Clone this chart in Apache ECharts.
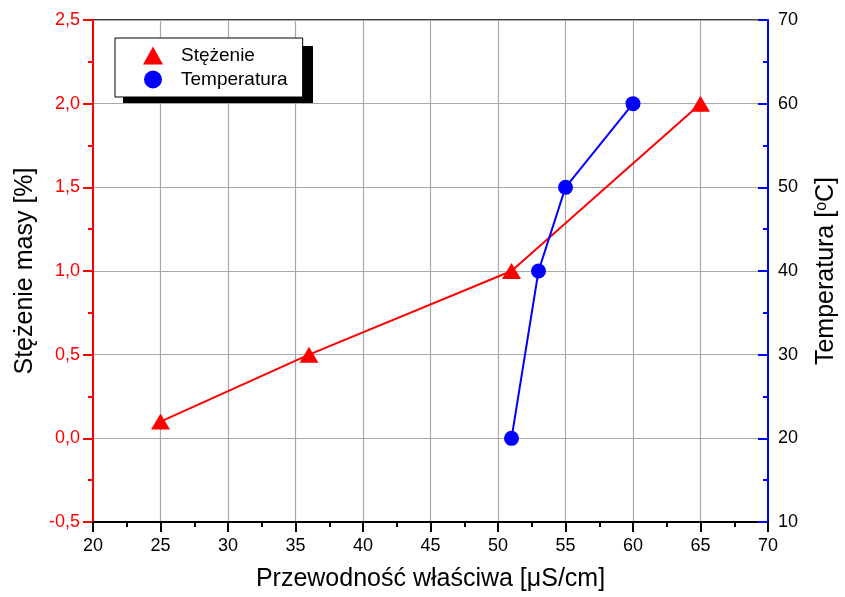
<!DOCTYPE html>
<html>
<head>
<meta charset="utf-8">
<script src="https://cdn.jsdelivr.net/npm/echarts@6/dist/echarts.min.js"></script>
<style>
html,body{margin:0;padding:0;background:#fff;}
#chart{width:845px;height:597px;}
</style>
</head>
<body>
<div id="chart"></div>
<script>
// dane
var concX = [25, 36, 51, 65];
var concY = [0.1, 0.5, 1.0, 2.0];
var tempX = [51, 53, 55, 60];
var tempY = [20, 40, 50, 60];
var seriesNames = ['Stężenie', 'Temperatura'];

function pairs(xs, ys) {
	var out = [];
	for (var i = 0; i < xs.length; i++) {
		out.push([xs[i], ys[i]]);
	}
	return out;
}

var fontFam = 'Liberation Sans, Arial, sans-serif';

var chart = echarts.init(document.getElementById('chart'));

var option = {
	animation: false,
	textStyle: { fontFamily: fontFam },
	grid: {
		left: 93,
		right: 77,
		top: 20,
		bottom: 75,
		outerBoundsMode: 'none',
		containLabel: false,
		show: true,
		borderColor: '#000',
		borderWidth: 1.5
	},
	// cien legendy
	graphic: [{
		type: 'rect',
		left: 123,
		top: 46,
		z: 3,
		shape: { width: 190, height: 57 },
		style: { fill: '#000' }
	}],
	legend: {
		left: 115,
		top: 38,
		z: 5,
		orient: 'vertical',
		data: [
			{ name: seriesNames[0], icon: 'triangle' },
			{ name: seriesNames[1], icon: 'circle' }
		],
		itemWidth: 20,
		itemHeight: 18,
		itemGap: 5,
		padding: [8, 15, 8, 28],
		backgroundColor: '#fff',
		borderColor: '#000',
		borderWidth: 1,
		textStyle: { fontSize: 19, color: '#000', fontFamily: fontFam, padding: [0, 0, 0, 13] }
	},
	xAxis: {
		type: 'value',
		min: 20,
		max: 70,
		interval: 5,
		name: 'Przewodność właściwa [μS/cm]',
		nameLocation: 'middle',
		nameGap: 45,
		nameTextStyle: { fontSize: 25, color: '#000', fontFamily: fontFam },
		axisLine: { onZero: false, lineStyle: { color: '#000', width: 2 } },
		axisTick: { inside: false, length: 10, lineStyle: { color: '#000', width: 2 } },
		minorTick: { show: true, splitNumber: 2, length: 5, lineStyle: { color: '#000', width: 2 } },
		axisLabel: { fontSize: 18, color: '#000', margin: 15, fontFamily: fontFam },
		splitLine: { show: true, lineStyle: { color: '#a8a8a8', width: 1.2 } }
	},
	yAxis: [{
		type: 'value',
		position: 'left',
		min: -0.5,
		max: 2.5,
		interval: 0.5,
		name: 'Stężenie masy [%]',
		nameLocation: 'middle',
		nameGap: 54,
		nameRotate: 90,
		nameTextStyle: { fontSize: 25, color: '#000', fontFamily: fontFam },
		axisLine: { show: true, onZero: false, lineStyle: { color: '#ff0000', width: 2 } },
		axisTick: { show: true, inside: false, length: 10, lineStyle: { color: '#ff0000', width: 2 } },
		minorTick: { show: true, splitNumber: 2, length: 5, lineStyle: { color: '#ff0000', width: 2 } },
		axisLabel: {
			fontSize: 18,
			color: '#ff0000',
			margin: 13,
			fontFamily: fontFam,
			formatter: function (v) { return v.toFixed(1).replace('.', ','); }
		},
		splitLine: { show: true, lineStyle: { color: '#a8a8a8', width: 1.2 } }
	}, {
		type: 'value',
		position: 'right',
		min: 10,
		max: 70,
		interval: 10,
		name: 'Temperatura [{sup|o}C]',
		nameLocation: 'middle',
		nameGap: 46,
		nameRotate: 90,
		nameTextStyle: {
			fontSize: 25,
			color: '#000',
			fontFamily: fontFam,
			rich: {
				sup: { fontSize: 16, verticalAlign: 'top', padding: [0, 0, 8, 0], color: '#000', fontFamily: fontFam }
			}
		},
		axisLine: { show: true, onZero: false, lineStyle: { color: '#0000ff', width: 2 } },
		axisTick: { show: true, inside: true, length: 10, lineStyle: { color: '#0000ff', width: 2 } },
		minorTick: { show: true, splitNumber: 2, length: 5, lineStyle: { color: '#0000ff', width: 2 } },
		axisLabel: { fontSize: 18, color: '#000', margin: 10, fontFamily: fontFam },
		splitLine: { show: false }
	}],
	series: [{
		name: seriesNames[0],
		type: 'line',
		yAxisIndex: 0,
		data: pairs(concX, concY),
		symbol: 'triangle',
		symbolSize: [19, 16],
		itemStyle: { color: '#ff0000' },
		lineStyle: { color: '#ff0000', width: 2 },
		z: 3
	}, {
		name: seriesNames[1],
		type: 'line',
		yAxisIndex: 1,
		data: pairs(tempX, tempY),
		symbol: 'circle',
		symbolSize: 15,
		itemStyle: { color: '#0000ff' },
		lineStyle: { color: '#0000ff', width: 2 },
		z: 4
	}]
};

chart.setOption(option);
</script>
</body>
</html>
